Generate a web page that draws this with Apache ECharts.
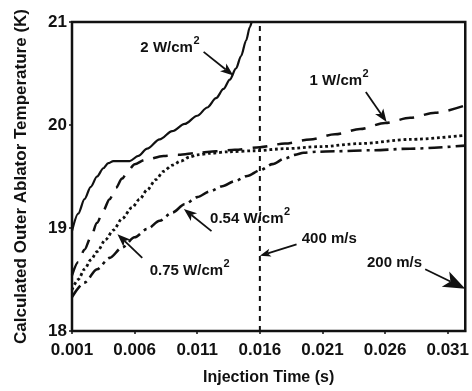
<!DOCTYPE html>
<html>
<head>
<meta charset="utf-8">
<script src="https://cdn.jsdelivr.net/npm/echarts@6/dist/echarts.min.js"></script>
<style>
    html, body { margin: 0; padding: 0; background: #fff; }
    #chart { width: 472px; height: 391px; }
</style>
</head>
<body>
<div id="chart"></div>
<script>
// injection time (s) and temperature (K)
var T0 = 0.001;   // first tick of the time axis

var time2W = [0.001, 0.0015, 0.002, 0.0025, 0.003, 0.0035, 0.0039, 0.0043, 0.0056, 0.0063, 0.0070, 0.0080, 0.0090, 0.0100, 0.0110, 0.0118, 0.0125, 0.0131, 0.0136, 0.0141, 0.0145, 0.0149, 0.0152, 0.0154];
var temp2W = [18.97, 19.14, 19.28, 19.40, 19.50, 19.58, 19.63, 19.65, 19.65, 19.70, 19.77, 19.86, 19.94, 20.01, 20.09, 20.17, 20.26, 20.35, 20.44, 20.55, 20.67, 20.82, 20.95, 21.03];

var time1W = [0.001, 0.0015, 0.002, 0.0025, 0.003, 0.0035, 0.004, 0.0045, 0.005, 0.0055, 0.006, 0.0068, 0.0083, 0.0095, 0.0111, 0.0125, 0.014, 0.016, 0.018, 0.020, 0.022, 0.024, 0.026, 0.028, 0.030, 0.0324];
var temp1W = [18.54, 18.67, 18.79, 18.91, 19.05, 19.17, 19.28, 19.39, 19.48, 19.56, 19.62, 19.66, 19.70, 19.71, 19.73, 19.745, 19.76, 19.785, 19.82, 19.86, 19.91, 19.96, 20.02, 20.07, 20.12, 20.19];

var time075W = [0.001, 0.0015, 0.002, 0.0025, 0.003, 0.0037, 0.0043, 0.005, 0.0058, 0.0064, 0.007, 0.0077, 0.0083, 0.009, 0.0097, 0.0104, 0.011, 0.012, 0.0135, 0.0156, 0.018, 0.0208, 0.024, 0.028, 0.0324];
var temp075W = [18.40, 18.50, 18.60, 18.69, 18.77, 18.89, 18.98, 19.09, 19.20, 19.28, 19.37, 19.47, 19.55, 19.61, 19.65, 19.69, 19.71, 19.725, 19.74, 19.75, 19.77, 19.79, 19.82, 19.86, 19.90];

var time054W = [0.001, 0.002, 0.003, 0.004, 0.005, 0.006, 0.007, 0.008, 0.009, 0.010, 0.011, 0.012, 0.013, 0.014, 0.015, 0.016, 0.017, 0.018, 0.0188, 0.0195, 0.0205, 0.022, 0.025, 0.028, 0.0324];
var temp054W = [18.33, 18.47, 18.60, 18.71, 18.81, 18.91, 18.99, 19.07, 19.15, 19.23, 19.30, 19.355, 19.405, 19.455, 19.505, 19.56, 19.62, 19.675, 19.71, 19.73, 19.74, 19.745, 19.755, 19.77, 19.80];

var markerTime = 0.016;   // 400 m/s line

// annotation text: [label, time, temp]
var notes = [
    ['{a|2 W/cm}{s|2}', 0.00882, 20.77],
    ['{a|1 W/cm}{s|2}', 0.02233, 20.45],
    ['{a|0.54 W/cm}{s|2}', 0.01522, 19.11],
    ['{a|0.75 W/cm}{s|2}', 0.0104, 18.61],
    ['{a|400 m/s}', 0.02154, 18.92],
    ['{a|200 m/s}', 0.02675, 18.69]
];
// arrows: [fromTime, fromTemp, toTime, toTemp, headLength, headWidth]
var arrows = [
    [0.01151, 20.71, 0.01388, 20.48, 13, 10],
    [0.02446, 20.32, 0.02612, 20.03, 13, 10],
    [0.01214, 18.97, 0.00993, 19.185, 13, 10],
    [0.00661, 18.71, 0.00463, 18.94, 13, 10],
    [0.01893, 18.84, 0.0160, 18.73, 11, 8],
    [0.0292, 18.60, 0.0324, 18.41, 22, 17]
];

var FONT = "'Liberation Sans', Arial, Helvetica, sans-serif";

function pairs(ts, vs) {
    return ts.map(function (t, i) { return [t - T0, vs[i]]; });
}

var dom = document.getElementById('chart');
var chart = echarts.init(dom, null, {renderer: 'canvas'});

var curveStyle = {smooth: 0.3, smoothMonotone: 'x', symbol: 'none', clip: true};

var option = {
    animation: false,
    grid: {
        left: 72, right: 3, top: 22, bottom: 55,
        show: true,
        borderColor: '#111',
        borderWidth: 2.5
    },
    xAxis: {
        type: 'value',
        min: 0,
        max: 0.0324 - T0,
        interval: 0.005,
        name: 'Injection Time (s)',
        nameLocation: 'middle',
        nameGap: 39,
        nameTextStyle: {fontFamily: FONT, fontWeight: 'bold', fontSize: 16, color: '#111'},
        axisLine: {lineStyle: {color: '#111', width: 2}},
        axisTick: {show: true, length: 3, lineStyle: {color: '#111', width: 1.5}},
        axisLabel: {
            margin: 11,
            fontFamily: FONT, fontWeight: 'bold', fontSize: 17, color: '#111',
            formatter: function (v) { return (v + T0).toFixed(3); }
        },
        splitLine: {show: false}
    },
    yAxis: {
        type: 'value',
        min: 18,
        max: 21,
        interval: 1,
        name: 'Calculated Outer Ablator Temperature (K)',
        nameLocation: 'middle',
        nameGap: 42,
        nameTextStyle: {fontFamily: FONT, fontWeight: 'bold', fontSize: 17, color: '#111'},
        axisLine: {lineStyle: {color: '#111', width: 2}},
        axisTick: {show: true, length: 3, lineStyle: {color: '#111', width: 1.5}},
        axisLabel: {margin: 5, fontFamily: FONT, fontWeight: 'bold', fontSize: 17, color: '#111'},
        splitLine: {show: false}
    },
    series: [
        Object.assign({
            name: '2 W/cm2', type: 'line', data: pairs(time2W, temp2W),
            lineStyle: {color: '#111', width: 2.2}
        }, curveStyle),
        Object.assign({
            name: '1 W/cm2', type: 'line', data: pairs(time1W, temp1W),
            lineStyle: {color: '#111', width: 2.5, type: [15, 10]}
        }, curveStyle),
        Object.assign({
            name: '0.75 W/cm2', type: 'line', data: pairs(time075W, temp075W),
            lineStyle: {color: '#111', width: 2.8, type: [2.8, 2.8]}
        }, curveStyle),
        Object.assign({
            name: '0.54 W/cm2', type: 'line', data: pairs(time054W, temp054W),
            lineStyle: {color: '#111', width: 2.6, type: [14, 5, 3, 5]}
        }, curveStyle),
        {
            name: '400 m/s', type: 'line',
            data: [[markerTime - T0, 18], [markerTime - T0, 21]],
            symbol: 'none',
            lineStyle: {color: '#111', width: 2, type: [5, 5]}
        }
    ]
};

chart.setOption(option);

// annotations placed in data coordinates
function toPx(t, v) {
    return chart.convertToPixel({gridIndex: 0}, [t - T0, v]);
}

var elements = [];
notes.forEach(function (n) {
    var p = toPx(n[1], n[2]);
    elements.push({
        type: 'text',
        x: p[0], y: p[1],
        style: {
            text: n[0],
            align: 'center',
            verticalAlign: 'middle',
            fill: '#111',
            rich: {
                a: {fontFamily: FONT, fontWeight: 'bold', fontSize: 15, lineHeight: 20, verticalAlign: 'bottom'},
                s: {fontFamily: FONT, fontWeight: 'bold', fontSize: 11, lineHeight: 20, verticalAlign: 'top', padding: [0, 0, 0, 0.5]}
            }
        },
        z: 100
    });
});

arrows.forEach(function (a) {
    var p0 = toPx(a[0], a[1]);
    var p1 = toPx(a[2], a[3]);
    var dx = p1[0] - p0[0], dy = p1[1] - p0[1];
    var len = Math.sqrt(dx * dx + dy * dy);
    var ux = dx / len, uy = dy / len;
    var nx = -uy, ny = ux;
    var L = a[4], W = a[5];
    var bx = p1[0] - ux * L, by = p1[1] - uy * L;
    var notchX = p1[0] - ux * L * 0.75, notchY = p1[1] - uy * L * 0.75;
    elements.push({
        type: 'line',
        shape: {x1: p0[0], y1: p0[1], x2: notchX, y2: notchY},
        style: {stroke: '#111', lineWidth: 1.8},
        z: 100
    });
    elements.push({
        type: 'polygon',
        shape: {points: [
            [p1[0], p1[1]],
            [bx + nx * W / 2, by + ny * W / 2],
            [notchX, notchY],
            [bx - nx * W / 2, by - ny * W / 2]
        ]},
        style: {fill: '#111'},
        z: 100
    });
});

chart.setOption({graphic: {elements: elements}});

window.addEventListener('resize', function () {
    chart.resize();
});
</script>
</body>
</html>
